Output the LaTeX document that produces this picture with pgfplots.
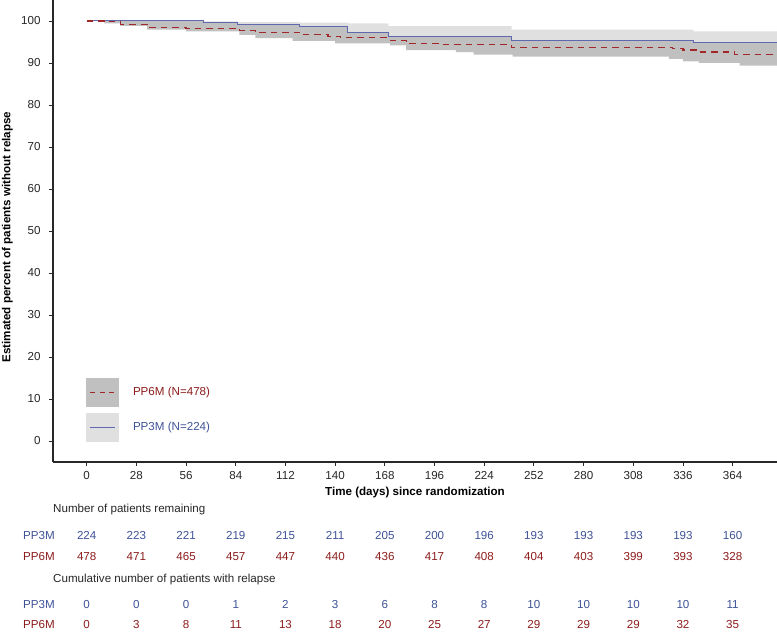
\documentclass[border=0pt]{standalone}
\usepackage{fontspec}
\setmainfont{Liberation Sans}
\usepackage{pgfplots}
\pgfplotsset{compat=1.18}
\usepackage{pgfplotstable}
\usepgfplotslibrary{fillbetween}
\definecolor{lightband}{RGB}{224,224,224}
\definecolor{darkband}{RGB}{192,192,192}
\definecolor{p3blue}{RGB}{62,82,150}
\definecolor{p3line}{RGB}{95,105,175}
\definecolor{p6red}{RGB}{140,28,28}
\definecolor{p6line}{RGB}{160,40,40}
\definecolor{axiscol}{RGB}{40,40,40}
\newcommand{\f}{\fontsize{11.6}{13.5}\selectfont}

\pgfplotstableread{
day r3  r6  c3 c6
0   224 478 0  0
28  223 471 0  3
56  221 465 0  8
84  219 457 1  11
112 215 447 2  13
140 211 440 3  18
168 205 436 6  20
196 200 417 8  25
224 196 408 8  27
252 193 404 10 29
280 193 403 10 29
308 193 399 10 29
336 193 393 10 32
364 160 328 11 35
}\risk

\pgfplotsset{risknum/.style={only marks, mark=x, mark size=0pt, mark options={white, line width=0pt},
  nodes near coords, point meta=explicit symbolic,
  every node near coord/.append style={anchor=center, text=#1, font=\f, inner sep=0pt,
    text height=8.3pt, text depth=0pt}}}

\begin{document}
\begin{tikzpicture}
\begin{axis}[
  scale only axis, width=724pt, height=462pt,
  at={(0pt,0pt)}, anchor=south west,
  xmin=-19, xmax=389, ymin=-5, ymax=105,
  axis x line*=bottom, axis y line*=left,
  axis line style={line width=1.2pt, color=axiscol},
  xtick={0,28,...,364}, ytick={0,10,...,100},
  tick align=outside, major tick length=4pt,
  tick style={line width=0.9pt, color=axiscol},
  /pgf/number format/assume math mode=true,
  ticklabel style={font=\f, text=black!85},
  xticklabel style={yshift=-2pt},
  yticklabel style={xshift=-5pt},
  xlabel={\bfseries Time (days) since randomization},
  ylabel={\bfseries Estimated percent of patients without relapse},
  every axis x label/.style={at={(axis description cs:0.5,0)}, anchor=center, yshift=-31pt, font=\f},
  every axis y label/.style={at={(axis description cs:0,0.5)}, xshift=-45.5pt, yshift=-6pt, rotate=90, anchor=center, font=\f},
  legend style={draw=none, fill=none, at={(0.0456,0.0433)}, anchor=south west,
    inner sep=0pt, outer sep=0pt, row sep=6pt, font=\f,
    nodes={inner sep=0pt},
    /tikz/every odd column/.append style={column sep=14pt}},
  legend cell align=left,
]
\addlegendimage{color=p6line, line width=1.1pt, dash pattern=on 5pt off 4.5pt,
  legend image code/.code={
  \path[fill=darkband, draw=none] (0pt,-14.5pt) rectangle (33pt,14.5pt);
  \draw (4pt,0pt) -- (29pt,0pt);}}
\addlegendentry{\textcolor{p6red}{PP6M (N=478)}}
\addlegendimage{color=p3line, line width=1.1pt,
  legend image code/.code={
  \path[fill=lightband, draw=none] (0pt,-14.5pt) rectangle (33pt,14.5pt);
  \draw (4pt,0pt) -- (29pt,0pt);}}
\addlegendentry{\textcolor{p3blue}{PP3M (N=224)}}

% PP3M upper confidence limit
\addplot[name path=p3u, draw=none, const plot] coordinates {
(0,100) (65.6,99.9) (85,99.75) (120,99.6) (147,99.45) (170,98.75) (239.5,97.95) (342,97.5) (389,97.5)};
% PP3M estimate
\addplot[name path=p3, draw=none, const plot] coordinates {
(0,100) (65.6,99.55) (85,99.1) (120,98.66) (147,97.3) (170,96.4) (239.5,95.3) (342,94.8) (389,94.8)};
% PP6M lower confidence limit
\addplot[name path=p6l, draw=none, const plot] coordinates {
(0,100) (10,99.45) (19,98.85) (34,97.95) (56,97.55) (86,96.7) (95,95.9) (116,95.25) (140,94.65) (171,94.2) (180,93.05) (208,92.6) (218,92.0) (240,91.5) (328,91.0) (336,90.4) (345,90.05) (368,89.4) (389,89.4)};

\addplot[fill=lightband, draw=none] fill between[of=p3u and p3];
\addplot[fill=darkband, draw=none] fill between[of=p3 and p6l];

\addplot[p3line, line width=1pt, const plot] coordinates {
(0,100) (65.6,99.55) (85,99.1) (120,98.66) (147,97.3) (170,96.4) (239.5,95.3) (342,94.8) (389,94.8)};
\addplot[p6line, line width=1.2pt, dash pattern=on 6.5pt off 5pt, const plot] coordinates {
(0,100) (10,99.8) (19,99.2) (34,98.5) (56,98.3) (86,97.7) (95,97.3) (120,96.7) (136,96.3) (143,96.0) (171,95.4) (180,94.7) (200,94.45) (239.5,93.75) (330,93.4) (336,93.1) (345,92.6) (365,92.0) (389,92.0)};
\end{axis}

\begin{axis}[
  scale only axis, width=724pt, height=170pt,
  at={(0pt,-170pt)}, anchor=south west,
  xmin=-19, xmax=389, ymin=0, ymax=170,
  hide axis, clip=false,
]
\addplot[risknum=p3blue] table[x=day, y expr=97, meta=r3] {\risk};
\addplot[risknum=p6red] table[x=day, y expr=76, meta=r6] {\risk};
\addplot[risknum=p3blue] table[x=day, y expr=28, meta=c3] {\risk};
\addplot[risknum=p6red] table[x=day, y expr=8, meta=c6] {\risk};
\node[anchor=west, font=\f, inner sep=0pt, text=black!85] at (axis cs:-19,122) {Number of patients remaining};
\node[anchor=west, font=\f, inner sep=0pt, text=black!85] at (axis cs:-19,52) {Cumulative number of patients with relapse};
\node[anchor=west, font=\f, inner sep=0pt, text=p3blue, text height=8.3pt, text depth=0pt] at (axis cs:-35.9,97) {PP3M};
\node[anchor=west, font=\f, inner sep=0pt, text=p6red, text height=8.3pt, text depth=0pt] at (axis cs:-35.9,76) {PP6M};
\node[anchor=west, font=\f, inner sep=0pt, text=p3blue, text height=8.3pt, text depth=0pt] at (axis cs:-35.9,28) {PP3M};
\node[anchor=west, font=\f, inner sep=0pt, text=p6red, text height=8.3pt, text depth=0pt] at (axis cs:-35.9,8) {PP6M};
\end{axis}
\pgfresetboundingbox
\path[use as bounding box] (-53pt,-170pt) rectangle (724pt,462pt);
\end{tikzpicture}
\end{document}
